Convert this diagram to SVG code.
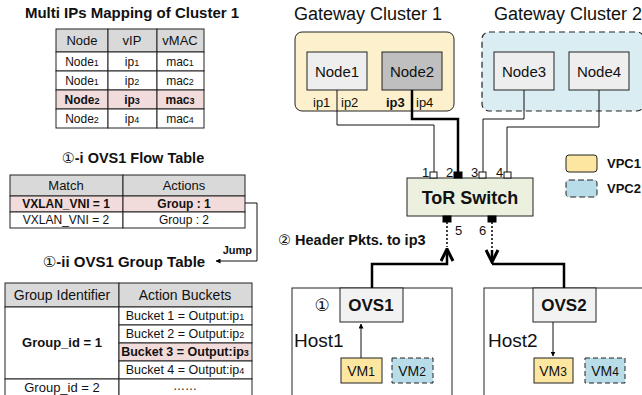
<svg xmlns="http://www.w3.org/2000/svg" width="642" height="395" viewBox="0 0 642 395">
<defs>
<style>
text{font-family:"Liberation Sans",Arial,sans-serif;fill:#111}
.c{text-anchor:middle}
.b{font-weight:bold}
.cir{font-family:"DejaVu Sans",sans-serif;font-weight:normal}
.cell{fill:#fff;stroke:#222;stroke-width:1}
.hd{fill:#d9d9d9;stroke:#222;stroke-width:1}
.pk{fill:#f2dcdb;stroke:#222;stroke-width:1}
.t12{font-size:12px}
.t13{font-size:13px}
.sub{font-size:9px}
.ln{fill:none;stroke:#111;stroke-width:1}
.bl{fill:none;stroke:#000;stroke-width:2.5}
.node{fill:#eeeeee;stroke:#222;stroke-width:1}
.port{fill:#fff;stroke:#111;stroke-width:1}
.portb{fill:#000;stroke:#000;stroke-width:1}
.dot{fill:none;stroke:#000;stroke-width:1.5;stroke-dasharray:2,2}
</style>
<marker id="ah" viewBox="0 0 10 10" refX="9" refY="5" markerWidth="5" markerHeight="5" orient="auto-start-reverse"><path d="M0,0 L10,5 L0,10 z" fill="#000"/></marker>
<marker id="ao" viewBox="0 0 10 10" refX="9" refY="5" markerWidth="6" markerHeight="6" orient="auto"><path d="M1,1 L9,5 L1,9" fill="none" stroke="#000" stroke-width="2"/></marker>
</defs>

<!-- Mapping table -->
<g id="mapping-table">
<text x="132" y="18" class="c b" font-size="15">Multi IPs Mapping of Cluster 1</text>
<rect x="56" y="29" width="52" height="23" class="hd"/><rect x="108" y="29" width="49" height="23" class="hd"/><rect x="157" y="29" width="47" height="23" class="hd"/>
<text x="82" y="45" class="c t13">Node</text><text x="132" y="45" class="c t13">vIP</text><text x="180" y="45" class="c t13">vMAC</text>
<rect x="56" y="52" width="52" height="19" class="cell"/><rect x="108" y="52" width="49" height="19" class="cell"/><rect x="157" y="52" width="47" height="19" class="cell"/>
<text x="82" y="66" class="c t12">Node<tspan class="sub">1</tspan></text><text x="132" y="66" class="c t12">ip<tspan class="sub">1</tspan></text><text x="180" y="66" class="c t12">mac<tspan class="sub">1</tspan></text>
<rect x="56" y="71" width="52" height="19" class="cell"/><rect x="108" y="71" width="49" height="19" class="cell"/><rect x="157" y="71" width="47" height="19" class="cell"/>
<text x="82" y="85" class="c t12">Node<tspan class="sub">1</tspan></text><text x="132" y="85" class="c t12">ip<tspan class="sub">2</tspan></text><text x="180" y="85" class="c t12">mac<tspan class="sub">2</tspan></text>
<rect x="56" y="90" width="52" height="19" class="pk"/><rect x="108" y="90" width="49" height="19" class="pk"/><rect x="157" y="90" width="47" height="19" class="pk"/>
<text x="82" y="104" class="c t12 b">Node<tspan class="sub">2</tspan></text><text x="132" y="104" class="c t12 b">ip<tspan class="sub">3</tspan></text><text x="180" y="104" class="c t12 b">mac<tspan class="sub">3</tspan></text>
<rect x="56" y="109" width="52" height="19" class="cell"/><rect x="108" y="109" width="49" height="19" class="cell"/><rect x="157" y="109" width="47" height="19" class="cell"/>
<text x="82" y="123" class="c t12">Node<tspan class="sub">2</tspan></text><text x="132" y="123" class="c t12">ip<tspan class="sub">4</tspan></text><text x="180" y="123" class="c t12">mac<tspan class="sub">4</tspan></text>
</g>

<!-- Flow table -->
<g id="flow-table">
<text x="133" y="163" class="c b" font-size="14.5"><tspan class="cir">①</tspan>-i  OVS1 Flow Table</text>
<rect x="10" y="175" width="113" height="21" class="hd"/><rect x="123" y="175" width="122" height="21" class="hd"/>
<text x="66" y="190" class="c t13">Match</text><text x="184" y="190" class="c t13">Actions</text>
<rect x="10" y="196" width="113" height="16" class="pk"/><rect x="123" y="196" width="122" height="16" class="pk"/>
<text x="66" y="208" class="c t12 b">VXLAN_VNI = 1</text><text x="184" y="208" class="c t12 b">Group : 1</text>
<rect x="10" y="212" width="113" height="16" class="cell"/><rect x="123" y="212" width="122" height="16" class="cell"/>
<text x="66" y="224" class="c t12">VXLAN_VNI = 2</text><text x="184" y="224" class="c t12">Group : 2</text>
</g>

<!-- Group table -->
<g id="group-table">
<text x="124" y="267" class="c b" font-size="15"><tspan class="cir">①</tspan>-ii  OVS1 Group Table</text>
<rect x="5" y="283" width="114" height="24" class="hd"/><rect x="119" y="283" width="133" height="24" class="hd"/>
<text x="62" y="300" class="c" font-size="14">Group Identifier</text><text x="185" y="300" class="c" font-size="14">Action Buckets</text>
<rect x="5" y="307" width="114" height="72" class="cell"/>
<text x="62" y="347" class="c b" font-size="13">Group_id = 1</text>
<rect x="119" y="307" width="133" height="18" class="cell"/><text x="185" y="320" class="c" font-size="12.5">Bucket 1 = Output:ip<tspan class="sub">1</tspan></text>
<rect x="119" y="325" width="133" height="18" class="cell"/><text x="185" y="338" class="c" font-size="12.5">Bucket 2 = Output:ip<tspan class="sub">2</tspan></text>
<rect x="119" y="343" width="133" height="18" class="pk"/><text x="185" y="356" class="c b" font-size="12.5">Bucket 3 = Output:ip<tspan class="sub">3</tspan></text>
<rect x="119" y="361" width="133" height="18" class="cell"/><text x="185" y="374" class="c" font-size="12.5">Bucket 4 = Output:ip<tspan class="sub">4</tspan></text>
<rect x="5" y="379" width="114" height="20" class="cell"/><rect x="119" y="379" width="133" height="20" class="cell"/>
<text x="62" y="392" class="c" font-size="13">Group_id = 2</text><text x="185" y="390" class="c t12">……</text>
</g>

<!-- Gateway clusters -->
<g id="cluster1">
<text x="368" y="20" class="c" font-size="18">Gateway Cluster 1</text>
<rect x="295" y="32" width="159" height="79" rx="7" fill="#fdf0cc" stroke="#222" stroke-width="1"/>
</g>
<g id="cluster2">
<text x="568" y="20" class="c" font-size="18">Gateway Cluster 2</text>
<rect x="482" y="32" width="162" height="79" rx="7" fill="#daedf2" stroke="#222" stroke-width="1.2" stroke-dasharray="6,4"/>
</g>
<g id="node1"><rect x="307" y="52" width="60" height="38" class="node"/><text x="337" y="77" class="c" font-size="15">Node1</text></g>
<g id="node2"><rect x="382" y="52" width="60" height="38" fill="#bfbfbf" stroke="#222"/><text x="412" y="77" class="c" font-size="15">Node2</text></g>
<g id="node3"><rect x="494" y="52" width="60" height="38" class="node"/><text x="524" y="77" class="c" font-size="15">Node3</text></g>
<g id="node4"><rect x="569" y="52" width="60" height="38" class="node"/><text x="599" y="77" class="c" font-size="15">Node4</text></g>
<g id="ip-labels">
<text x="313" y="107" font-size="13">ip1</text><text x="341" y="107" font-size="13">ip2</text>
<text x="386" y="107" font-size="13" class="b">ip3</text><text x="416" y="107" font-size="13">ip4</text>
</g>

<!-- ToR switch -->
<g id="tor-switch">
<rect x="407" y="178" width="126" height="38" fill="#ebf1de" stroke="#222"/>
<text x="470" y="204" class="c b" font-size="18">ToR Switch</text>
<rect x="430" y="172" width="7" height="6" class="port"/>
<rect x="454" y="172" width="8" height="6" class="portb"/>
<rect x="479" y="172" width="7" height="6" class="port"/>
<rect x="504" y="172" width="7" height="6" class="port"/>
<text x="422" y="177" font-size="13">1</text><text x="446" y="177" font-size="13">2</text><text x="471" y="177" font-size="13">3</text><text x="496" y="177" font-size="13">4</text>
<rect x="443" y="216" width="8" height="6" class="portb"/>
<rect x="488" y="216" width="8" height="6" class="portb"/>
<text x="455" y="235" font-size="13">5</text><text x="479" y="235" font-size="13">6</text>
</g>

<!-- Legend -->
<g id="legend">
<rect x="566" y="155" width="31" height="17" rx="3" fill="#fde6a0" stroke="#222"/>
<text x="607" y="168" class="b" font-size="13">VPC1</text>
<rect x="566" y="180" width="31" height="17" rx="3" fill="#b9dde8" stroke="#222" stroke-dasharray="6,3"/>
<text x="607" y="193" class="b" font-size="13">VPC2</text>
</g>

<!-- Hosts -->
<g id="host1">
<rect x="292" y="288" width="160" height="115" fill="#fff" stroke="#222"/>
<text x="294" y="347" font-size="19">Host1</text>
</g>
<g id="ovs1"><rect x="340" y="288" width="63" height="34" fill="#f2f2f2" stroke="#222"/><text x="371" y="311" class="c b" font-size="17">OVS1</text><text x="322" y="311" class="c cir" font-size="17">①</text></g>
<g id="vm1"><rect x="341" y="358" width="41" height="25" fill="#fde6a0" stroke="#222"/><text x="361" y="376" class="c" font-size="14">VM<tspan font-size="12">1</tspan></text></g>
<g id="vm2"><rect x="392" y="358" width="41" height="25" fill="#b9dde8" stroke="#222" stroke-dasharray="5,3"/><text x="412" y="376" class="c" font-size="14">VM<tspan font-size="12">2</tspan></text></g>
<g id="host2">
<rect x="484" y="288" width="170" height="115" fill="#fff" stroke="#222"/>
<text x="488" y="347" font-size="19">Host2</text>
</g>
<g id="ovs2"><rect x="533" y="288" width="63" height="34" fill="#f2f2f2" stroke="#222"/><text x="564" y="311" class="c b" font-size="17">OVS2</text></g>
<g id="vm3"><rect x="534" y="358" width="39" height="25" fill="#fde6a0" stroke="#222"/><text x="553" y="376" class="c" font-size="14">VM<tspan font-size="12">3</tspan></text></g>
<g id="vm4"><rect x="585" y="358" width="40" height="25" fill="#b9dde8" stroke="#222" stroke-dasharray="5,3"/><text x="605" y="376" class="c" font-size="14">VM<tspan font-size="12">4</tspan></text></g>

<text x="278" y="245" class="b" font-size="14.5"><tspan class="cir">②</tspan> Header Pkts. to ip3</text>
<text x="252" y="254" class="b" font-size="11" text-anchor="end">Jump</text>

<!-- Connectors -->
<g id="connectors">
<path d="M337,90 V125 H434 V172" class="ln"/>
<path d="M412,90 V119 H458 V172" class="bl"/>
<path d="M524,90 V119 H483 V172" class="ln"/>
<path d="M599,90 V127 H507 V172" class="ln"/>
<path d="M245,203 H257 V261 H216" class="ln" marker-end="url(#ah)"/>
<path d="M447,222 V247" class="dot"/>
<path d="M372,288 V264 H447 V249" class="bl" marker-end="url(#ao)"/>
<path d="M492,222 V250" class="dot"/>
<path d="M492,250 V262" class="bl" marker-end="url(#ao)"/>
<path d="M492,264 H564 V288" class="bl"/>
<path d="M361,358 V324" class="ln" marker-end="url(#ah)"/>
<path d="M553,322 V356" class="ln" marker-end="url(#ah)"/>
</g>
</svg>
